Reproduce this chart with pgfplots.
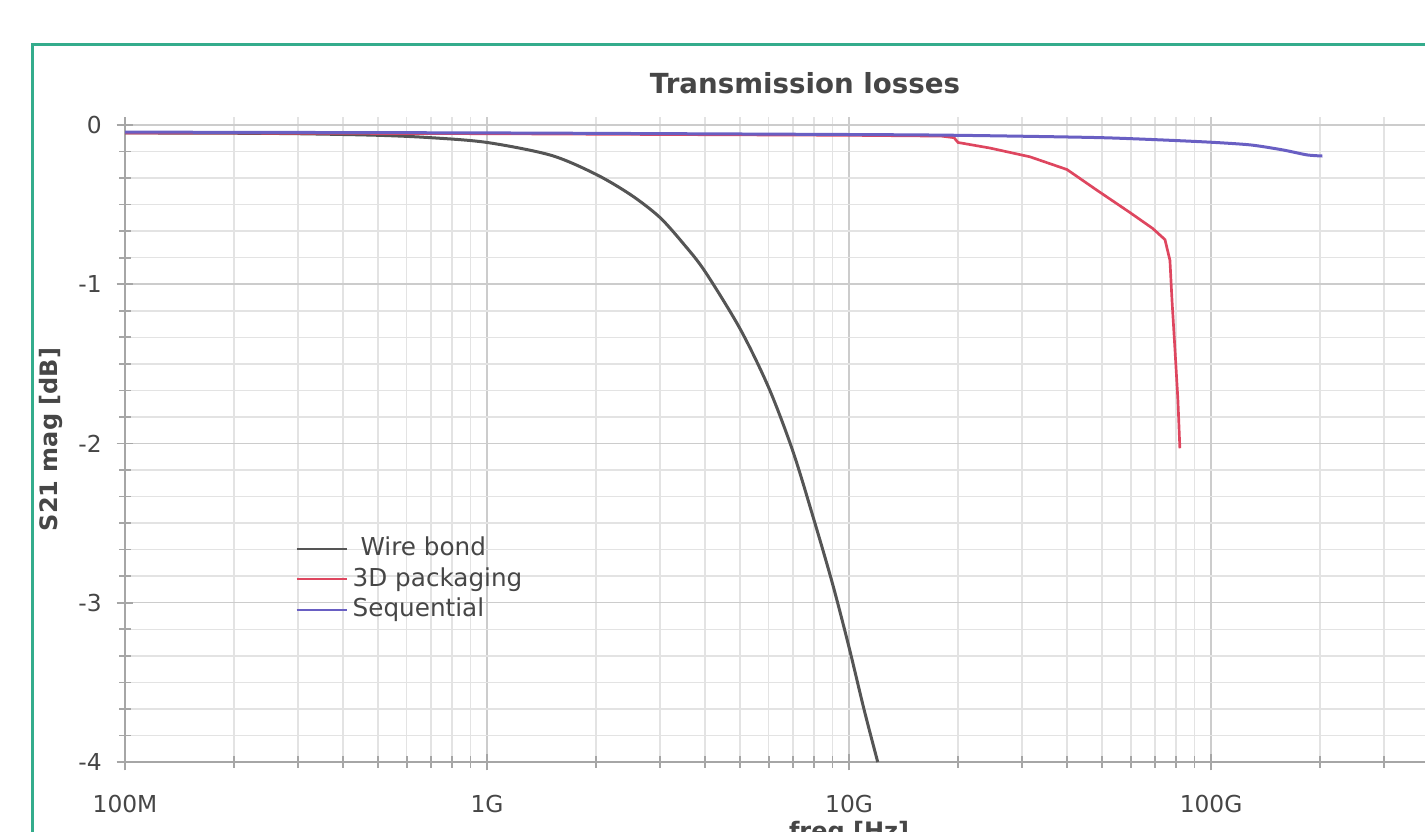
\documentclass[border=0pt]{standalone}
\usepackage{pgfplots}
\pgfplotsset{compat=1.18}
\usepackage{fontspec}
\setmainfont{DejaVu Sans}
\definecolor{frameteal}{RGB}{52,172,140}
\definecolor{wirecol}{RGB}{85,85,85}
\definecolor{pkgcol}{RGB}{222,70,95}
\definecolor{seqcol}{RGB}{105,95,195}
\definecolor{txtcol}{RGB}{70,70,70}
\begin{document}
\begin{tikzpicture}
\useasboundingbox (0,0) rectangle (427.5pt,249.3pt);
\draw[frameteal, line width=0.9pt] (9.6pt,-10pt) -- (9.6pt,235.8pt) -- (450pt,235.8pt);
\node[font=\fontsize{8.3}{9}\selectfont\bfseries, text=txtcol] at (241.5pt,224.4pt) {Transmission losses};
\begin{axis}[
  at={(37.5pt,20.7pt)}, anchor=south west,
  scale only axis, width=434.4pt, height=193.5pt,
  xmode=log, xmin=1e8, xmax=1e12, ymin=-4, ymax=0.05,
  axis x line*=bottom, axis y line*=left,
  axis line style={-, draw=gray!70, line width=0.6pt},
  xtick={1e8,1e9,1e10,1e11},
  xticklabels={100M,1G,10G,100G},
  extra x ticks={1e12}, extra x tick labels={},
  minor xtick={2e8,3e8,4e8,5e8,6e8,7e8,8e8,9e8,2e9,3e9,4e9,5e9,6e9,7e9,8e9,9e9,2e10,3e10,4e10,5e10,6e10,7e10,8e10,9e10,2e11,3e11,4e11,5e11,6e11,7e11,8e11,9e11},
  ytick={-4,-3,-2,-1,0},
  yticklabels={-4,-3,-2,-1,0},
  minor y tick num=5,
  tick align=center,
  major tick length=5pt, minor tick length=3.5pt,
  tick style={draw=gray!70, line width=0.5pt},
  grid=both,
  major grid style={draw=gray!40, line width=0.45pt},
  minor grid style={draw=gray!22, line width=0.45pt},
  ticklabel style={font=\fontsize{7}{8}\selectfont, text=txtcol},
  xticklabel style={yshift=-4pt},
  yticklabel style={xshift=-1pt},
  ylabel={S21 mag [dB]},
  ylabel style={font=\fontsize{7.2}{8}\selectfont\bfseries, text=txtcol, at={(axis description cs:-0.0511,0.5)}, anchor=center, rotate=0},
  xlabel={freq [Hz]},
  xlabel style={font=\fontsize{7.2}{8}\selectfont\bfseries, text=txtcol, at={(axis description cs:0.5,-0.11)}, anchor=center},
  legend style={at={(rel axis cs:0.1105,0.368)}, anchor=north west, draw=none, fill=none,
    font=\fontsize{7.4}{8}\selectfont, text=txtcol, row sep=-1pt,
    nodes={inner sep=1.5pt}},
  legend cell align=left,
  legend image code/.code={\draw[#1, line width=0.6pt] (0pt,0pt) -- (15pt,0pt);},
]
\addplot[wirecol, line width=0.9pt, smooth, tension=0.5] coordinates {
(1e8,-0.05) (2e8,-0.052) (3e8,-0.055) (5e8,-0.065) (7e8,-0.08) (1e9,-0.11)
(1.5e9,-0.19) (2e9,-0.31) (2.5e9,-0.44) (3e9,-0.58) (3.5e9,-0.75) (4e9,-0.92)
(5e9,-1.28) (6e9,-1.65) (7e9,-2.05) (8e9,-2.48) (9e9,-2.88) (1e10,-3.28)
(1.1e10,-3.67) (1.2e10,-4.0)};
\addlegendentry{\ Wire bond}
\addplot[pkgcol, line width=0.8pt] coordinates {
(1e8,-0.05) (3e8,-0.052) (1e9,-0.055) (3e9,-0.06) (1e10,-0.065) (1.8e10,-0.07)
(1.95e10,-0.08) (2.0e10,-0.11) (2.45e10,-0.145) (3.16e10,-0.2) (4.0e10,-0.28)
(4.84e10,-0.41) (5.97e10,-0.55) (6.9e10,-0.65) (7.46e10,-0.72) (7.7e10,-0.85)
(7.8e10,-1.10) (7.95e10,-1.41) (8.1e10,-1.73) (8.2e10,-2.03)};
\addlegendentry{3D packaging}
\addplot[seqcol, line width=0.9pt, smooth, tension=0.4] coordinates {
(1e8,-0.045) (1e9,-0.05) (1e10,-0.06) (2e10,-0.065) (5e10,-0.08) (9.33e10,-0.105)
(1.28e11,-0.125) (1.58e11,-0.157) (1.84e11,-0.188) (2.03e11,-0.195)};
\addlegendentry{Sequential}
\end{axis}
\end{tikzpicture}
\end{document}
